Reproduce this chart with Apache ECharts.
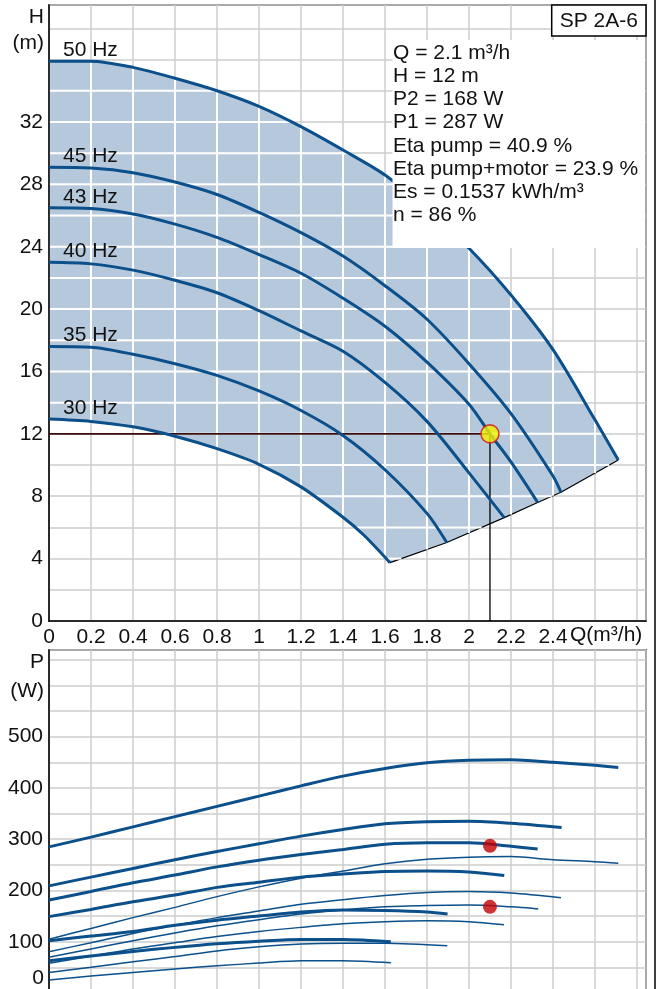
<!DOCTYPE html>
<html><head><meta charset="utf-8">
<script src="https://cdn.jsdelivr.net/npm/echarts@6/dist/echarts.min.js"></script>
<style>html,body{margin:0;padding:0;background:#fff;}#c{width:658px;height:989px;}</style>
</head><body><div id="c"></div>
<script>
// ---------- data ----------
const FREQ_LABELS = ['50 Hz', '45 Hz', '43 Hz', '40 Hz', '35 Hz', '30 Hz'];
// Q (m3/h), H (m)
const H_50 = [[0,35.9],[0.2,35.9],[0.4,35.5],[0.6,34.8],[0.8,34.0],[1.0,33.0],[1.2,31.7],[1.4,30.2],[1.6,28.6],[1.8,26.4],[2.0,23.9],[2.2,20.9],[2.4,17.4],[2.6,12.9],[2.711,10.33]];
const H_45 = [[0,29.1],[0.2,29.05],[0.4,28.75],[0.6,28.15],[0.8,27.35],[1.0,26.2],[1.2,24.9],[1.4,23.4],[1.6,21.5],[1.8,19.35],[2.0,16.5],[2.2,13.3],[2.4,9.3],[2.438,8.26]];
const H_43 = [[0,26.5],[0.2,26.45],[0.4,26.1],[0.6,25.45],[0.8,24.6],[1.0,23.5],[1.2,22.3],[1.4,20.7],[1.6,18.9],[1.8,16.6],[2.0,13.9],[2.1,12.0],[2.2,10.2],[2.327,7.6]];
const H_40 = [[0,23.0],[0.2,22.9],[0.4,22.5],[0.6,21.85],[0.8,21.05],[1.0,19.9],[1.2,18.6],[1.4,17.3],[1.6,15.3],[1.8,12.8],[2.0,9.5],[2.168,6.63]];
const H_35 = [[0,17.6],[0.2,17.55],[0.4,17.1],[0.6,16.5],[0.8,15.75],[1.0,14.75],[1.2,13.5],[1.4,11.9],[1.6,9.7],[1.8,6.9],[1.894,5.03]];
const H_30 = [[0,12.95],[0.2,12.8],[0.4,12.45],[0.6,11.85],[0.8,11.05],[1.0,10.05],[1.2,8.6],[1.4,6.65],[1.5,5.5],[1.624,3.74]];

// Q (m3/h), P (W)  -- P1 (thick) and P2 (thin)
const P1_50 = [[0,285],[0.2,304],[0.4,324],[0.6,344],[0.8,364],[1.0,384],[1.2,404],[1.4,423],[1.6,438],[1.8,449],[2.0,454],[2.2,455],[2.4,450],[2.6,444],[2.711,440]];
const P1_45 = [[0,209],[0.2,226],[0.4,243],[0.6,260],[0.8,276],[1.0,291],[1.2,306],[1.4,319],[1.6,330],[1.8,334],[2.0,335],[2.2,331],[2.441,322.6]];
const P1_43 = [[0,181.5],[0.2,198],[0.4,215],[0.6,230],[0.8,246],[1.0,259],[1.2,270],[1.4,280],[1.6,290],[1.8,293],[2.0,293],[2.2,286],[2.327,281]];
const P1_40 = [[0,149],[0.2,163],[0.4,178],[0.6,191],[0.8,206],[1.0,216],[1.2,226],[1.4,232],[1.6,237],[1.8,238],[2.0,236],[2.168,229]];
const P1_35 = [[0,102],[0.2,111],[0.4,120],[0.6,132],[0.8,142],[1.0,150],[1.2,158],[1.4,162],[1.6,161],[1.8,158],[1.898,154]];
const P1_30 = [[0,63],[0.2,72],[0.4,81],[0.6,89],[0.8,96],[1.0,101],[1.2,104.5],[1.4,104.5],[1.628,100]];
const P2_50 = [[0,105],[0.2,126],[0.4,147],[0.6,167],[0.8,188],[1.0,207],[1.2,224],[1.4,238],[1.6,252],[1.8,261],[2.0,265],[2.2,266],[2.4,260],[2.6,256],[2.711,253]];
const P2_45 = [[0,80.6],[0.2,98],[0.4,116],[0.6,132],[0.8,147],[1.0,160],[1.2,173],[1.4,182],[1.6,190],[1.8,196],[2.0,198],[2.2,195],[2.438,186]];
const P2_43 = [[0,69.6],[0.2,86],[0.4,102],[0.6,117],[0.8,131],[1.0,143],[1.2,154],[1.4,162],[1.6,168],[1.8,170.5],[2.0,171.5],[2.2,168],[2.33,164]];
const P2_40 = [[0,58],[0.2,72],[0.4,86],[0.6,98],[0.8,110],[1.0,120],[1.2,128],[1.4,135],[1.6,139],[1.8,141],[2.0,139],[2.167,133]];
const P2_35 = [[0,40],[0.2,50],[0.4,61],[0.6,71],[0.8,82],[1.0,90],[1.2,95.5],[1.4,97],[1.6,97],[1.897,92]];
const P2_30 = [[0,25.4],[0.2,33],[0.4,40],[0.6,47],[0.8,53],[1.0,58.5],[1.2,63],[1.4,63],[1.628,59]];

// duty point
const OP_Q = 2.1, OP_H = 12, OP_P1 = 287, OP_P2 = 168;
const INFO_LINES = ['Q = 2.1 m³/h', 'H = 12 m', 'P2 = 168 W', 'P1 = 287 W', 'Eta pump = 40.9 %', 'Eta pump+motor = 23.9 %', 'Es = 0.1537 kWh/m³', 'n = 86 %'];
const MODEL = 'SP 2A-6';

// axis ranges / ticks
const Q_MIN = 0, Q_MAX = 2.843, Q_STEP = 0.2, Q_LABEL_MAX = 2.4;
const H_MIN = 0, H_MAX = 39.5, H_STEP = 2, H_LABEL_STEP = 4, H_LABEL_MAX = 32;
const P_MIN = 0, P_MAX = 669, P_STEP = 50, P_LABEL_STEP = 100, P_LABEL_MIN = 100, P_LABEL_MAX = 500;

// ---------- derived ----------
const H_CURVES = [H_50, H_45, H_43, H_40, H_35, H_30];
const LIMIT = H_CURVES.map(c => c[c.length - 1]).reverse();   // curve end points, 30 Hz -> 50 Hz
const POLY = H_50.concat(H_CURVES.slice(1, 5).map(c => c[c.length - 1])).concat(H_30.slice().reverse());
const H_GRID = []; for (let v = H_MIN + H_STEP; v < H_MAX - 0.01; v += H_STEP) H_GRID.push(+v.toFixed(2));
const Q_GRID = []; for (let v = Q_MIN + Q_STEP; v < Q_MAX - 0.01; v += Q_STEP) Q_GRID.push(+v.toFixed(2));

const FONT = '"Liberation Sans", Arial, Helvetica, sans-serif';
const BLUE = '#0b4f8b';
const AREA = '#b6c9dc';
const GRIDC = '#cdcdcd';
const TXT = '#111';
const FS = 21;

function whiteGrid(params, api) {
  const pts = POLY.map(p => api.coord(p));
  const x0 = api.coord([Q_MIN, H_MIN])[0];
  const ch = [];
  const seg = (x1, y1, x2, y2) => ({type: 'line', shape: {x1, y1, x2, y2}, style: {stroke: '#fff', lineWidth: 2}});
  H_GRID.forEach(h => {
    const y = api.coord([Q_MIN, h])[1];
    const xs = [];
    for (let i = 0; i < pts.length; i++) {
      const a = pts[i], b = pts[(i + 1) % pts.length];
      if ((a[1] > y) !== (b[1] > y)) xs.push(a[0] + (y - a[1]) * (b[0] - a[0]) / (b[1] - a[1]));
    }
    xs.sort((m, n) => m - n);
    for (let k = 0; k + 1 < xs.length; k += 2) ch.push(seg(Math.max(xs[k], x0 + 1), y, xs[k + 1], y));
  });
  Q_GRID.forEach(q => {
    const x = api.coord([q, H_MIN])[0];
    const ys = [];
    for (let i = 0; i < pts.length; i++) {
      const a = pts[i], b = pts[(i + 1) % pts.length];
      if ((a[0] > x) !== (b[0] > x)) ys.push(a[1] + (x - a[0]) * (b[1] - a[1]) / (b[0] - a[0]));
    }
    ys.sort((m, n) => m - n);
    for (let k = 0; k + 1 < ys.length; k += 2) ch.push(seg(x, ys[k], x, ys[k + 1]));
  });
  return {type: 'group', children: ch};
}

const fmtQ = v => (v <= Q_LABEL_MAX + 1e-6 ? String(+v.toFixed(1)) : '');
const fmtH = v => (Math.abs(v % H_LABEL_STEP) < 1e-6 && v <= H_LABEL_MAX ? String(v) : '');
const fmtP = v => (Math.abs(v % P_LABEL_STEP) < 1e-6 && v >= P_LABEL_MIN && v <= P_LABEL_MAX ? String(v) : '');

const axisCommon = {
  type: 'value', z: 2,
  axisLine: {show: true, onZero: false, lineStyle: {color: '#000', width: 1.5}},
  axisTick: {show: false},
  splitLine: {show: true, lineStyle: {color: GRIDC, width: 1.5}},
  axisLabel: {color: TXT, fontSize: FS, fontFamily: FONT}
};

const series = [];
// shaded area
series.push({type: 'custom', xAxisIndex: 0, yAxisIndex: 0, z: 1, silent: true, data: [[0, 0]],
  renderItem: (p, api) => ({type: 'polygon', shape: {points: POLY.map(pt => api.coord(pt))}, style: {fill: AREA}})});
// limit line
series.push({type: 'line', xAxisIndex: 0, yAxisIndex: 0, z: 3, data: LIMIT, showSymbol: false, silent: true,
  lineStyle: {color: '#000', width: 1.2}});
// white grid within area
series.push({type: 'custom', xAxisIndex: 0, yAxisIndex: 0, z: 4, silent: true, data: [[0, 0]], renderItem: whiteGrid});
// duty lines
series.push({type: 'line', xAxisIndex: 0, yAxisIndex: 0, z: 5, data: [[Q_MIN, OP_H], [OP_Q, OP_H]], showSymbol: false, silent: true,
  lineStyle: {color: '#3a0b0b', width: 1.6}});
series.push({type: 'line', xAxisIndex: 0, yAxisIndex: 0, z: 5, data: [[OP_Q, OP_H], [OP_Q, H_MIN]], showSymbol: false, silent: true,
  lineStyle: {color: '#000', width: 1.3}});
// QH curves
H_CURVES.forEach(c => series.push({type: 'line', xAxisIndex: 0, yAxisIndex: 0, z: 6, data: c, showSymbol: false, silent: true,
  smooth: 0.3, lineStyle: {color: BLUE, width: 3}}));
// frequency labels
series.push({type: 'scatter', xAxisIndex: 0, yAxisIndex: 0, z: 7, symbolSize: 0, silent: true,
  data: H_CURVES.map((c, i) => ({value: c[0], name: FREQ_LABELS[i]})),
  label: {show: true, formatter: '{b}', position: [14, -11], verticalAlign: 'middle', align: 'left', color: TXT, opacity: 1,
    textBorderWidth: 0, fontSize: FS, fontFamily: FONT}});
// duty point
series.push({type: 'scatter', xAxisIndex: 0, yAxisIndex: 0, z: 8, data: [[OP_Q, OP_H]], symbolSize: 18, silent: true,
  itemStyle: {color: '#f4f000', borderColor: '#d3141b', borderWidth: 1.6}});

// power curves
[[P1_50, 3], [P1_45, 3], [P1_43, 3], [P1_40, 3], [P1_35, 3], [P1_30, 3],
 [P2_50, 1.5], [P2_45, 1.5], [P2_43, 1.5], [P2_40, 1.5], [P2_35, 1.5], [P2_30, 1.5]].forEach(([d, w]) =>
  series.push({type: 'line', xAxisIndex: 1, yAxisIndex: 1, z: 5, data: d, showSymbol: false, silent: true,
    smooth: 0.3, lineStyle: {color: BLUE, width: w}}));
series.push({type: 'scatter', xAxisIndex: 1, yAxisIndex: 1, z: 8, data: [[OP_Q, OP_P1], [OP_Q, OP_P2]], symbolSize: 14, silent: true,
  itemStyle: {color: '#c40000'}});

const txt = (x, y, text, align, extra) => Object.assign({type: 'text', x, y, z: 20,
  style: Object.assign({text, fill: TXT, fontSize: FS, fontFamily: FONT, align: align || 'left', verticalAlign: 'middle'}, extra || {})});

const option = {
  animation: false,
  textStyle: {fontFamily: FONT},
  grid: [
    {left: 49, right: 12, top: 5, bottom: 368, show: true, borderColor: '#000', borderWidth: 1.5, outerBoundsMode: 'none', containLabel: false},
    {left: 49, right: 12, top: 650, bottom: -4, show: true, borderColor: '#000', borderWidth: 1.5, outerBoundsMode: 'none', containLabel: false}
  ],
  xAxis: [
    Object.assign({}, axisCommon, {gridIndex: 0, min: Q_MIN, max: Q_MAX, interval: Q_STEP,
      axisLabel: Object.assign({}, axisCommon.axisLabel, {formatter: fmtQ, margin: 6, showMaxLabel: false})}),
    Object.assign({}, axisCommon, {gridIndex: 1, min: Q_MIN, max: Q_MAX, interval: Q_STEP, axisLabel: {show: false}})
  ],
  yAxis: [
    Object.assign({}, axisCommon, {gridIndex: 0, min: H_MIN, max: H_MAX, interval: H_STEP,
      axisLabel: Object.assign({}, axisCommon.axisLabel, {formatter: fmtH, margin: 6, showMaxLabel: false})}),
    Object.assign({}, axisCommon, {gridIndex: 1, min: P_MIN, max: P_MAX, interval: P_STEP,
      axisLabel: Object.assign({}, axisCommon.axisLabel, {formatter: fmtP, margin: 6, showMaxLabel: false})})
  ],
  graphic: [
    {type: 'rect', z: 15, shape: {x: 392.5, y: 40, width: 252.5, height: 208}, style: {fill: '#fff'}},
    {type: 'rect', z: 16, shape: {x: 551.7, y: 5, width: 94.3, height: 31}, style: {fill: '#fff', stroke: '#000', lineWidth: 1.5}},
    txt(598.8, 21, MODEL, 'center'),
    txt(393, 41.4, INFO_LINES.join('\n'), 'left', {verticalAlign: 'top', lineHeight: 23.2}),
    txt(44, 17, 'H', 'right'),
    txt(44, 43.5, '(m)', 'right'),
    txt(570, 635, 'Q(m³/h)', 'left'),
    txt(44, 662.5, 'P', 'right'),
    txt(44, 691.5, '(W)', 'right'),
    txt(44, 978, '0', 'right'),
    {type: 'line', z: 20, shape: {x1: 655, y1: 0, x2: 655, y2: 989}, style: {stroke: '#000', lineWidth: 1.5}}
  ],
  series
};

const chart = echarts.init(document.getElementById('c'), null, {renderer: 'canvas'});
chart.setOption(option);
</script></body></html>
